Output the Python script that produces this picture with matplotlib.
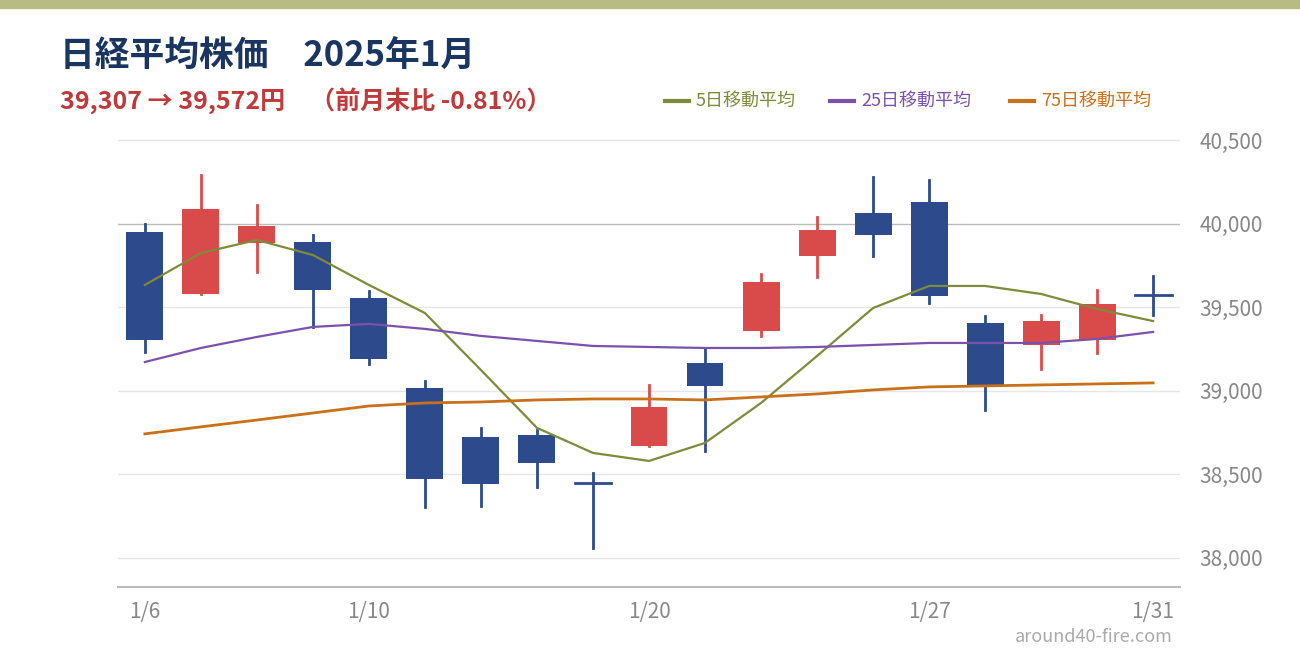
import matplotlib
matplotlib.use("Agg")
import matplotlib.pyplot as plt
from matplotlib.lines import Line2D

plt.rcParams['font.family'] = ['Noto Sans CJK JP', 'DejaVu Sans']

dates = ["1/6","1/7","1/8","1/9","1/10","1/14","1/15","1/16","1/17","1/20",
         "1/21","1/22","1/23","1/24","1/27","1/28","1/29","1/30","1/31"]
opens  = [39950,39579,39884,39890,39555,39017,38724,38736,38449,38670,39166,39358,39806,40063,40129,39405,39274,39304,39573]
closes = [39304,40087,39986,39603,39190,38472,38443,38568,38449,38903,39029,39651,39962,39932,39567,39035,39417,39519,39573]
highs  = [39998,40291,40111,39932,39597,39059,38778,38766,38508,39035,39250,39699,40040,40279,40261,39447,39453,39603,39687]
lows   = [39232,39579,39711,39382,39160,38305,38311,38425,38060,38670,38640,39328,39681,39806,39525,38885,39130,39226,39453]
ma5  = [39633,39824,39902,39812,39633,39465,39124,38778,38628,38580,38688,38927,39208,39495,39627,39627,39579,39489,39417]
ma25 = [39172,39256,39322,39382,39400,39370,39328,39298,39268,39262,39256,39256,39262,39274,39286,39286,39286,39310,39352]
ma75 = [38742,38784,38825,38867,38909,38927,38933,38945,38951,38951,38945,38963,38981,39005,39023,39029,39035,39041,39047]
xtick_idx = [0, 4, 9, 14, 18]
yticks = [38000, 38500, 39000, 39500, 40000, 40500]

BLUE, RED = "#2d4a8c", "#d94b4b"
C5, C25, C75 = "#7f8a3a", "#7b52ab", "#c8701a"

fig = plt.figure(figsize=(13, 6.6), dpi=100)
fig.add_artist(plt.Rectangle((0, 1-8/660), 1, 8/660, transform=fig.transFigure, color="#b8bb82"))
ax = fig.add_axes([118/1300, 1-587/660, (1180-118)/1300, (587-130)/660])

x = list(range(len(dates)))
for i in x:
    o, c, h, l = opens[i], closes[i], highs[i], lows[i]
    col = RED if c > o else BLUE
    ax.plot([i, i], [l, h], color=col, lw=2, zorder=3)
    if abs(c - o) < 1:
        ax.plot([i-0.33, i+0.33], [o, o], color=col, lw=2, zorder=3)
    else:
        ax.bar(i, abs(c-o), bottom=min(o, c), width=0.66, color=col, zorder=4)

ax.plot(x, ma5, color=C5, lw=1.6, zorder=5)
ax.plot(x, ma25, color=C25, lw=1.6, zorder=5)
ax.plot(x, ma75, color=C75, lw=2, zorder=5)

ax.set_xlim(-0.48, 18.48)
ax.set_ylim(37826, 40560)
ax.set_yticks(yticks)
ax.set_yticklabels([f"{v:,}" for v in yticks])
ax.yaxis.tick_right()
ax.set_xticks(xtick_idx)
ax.set_xticklabels([dates[i] for i in xtick_idx])
for v in yticks:
    ax.axhline(v, color="#bbbbbb" if v == 40000 else "#e6e6e6", lw=1, zorder=0)
for s in ["top", "right", "left"]:
    ax.spines[s].set_visible(False)
ax.spines["bottom"].set_color("#bbbbbb")
ax.spines["bottom"].set_linewidth(1.5)
ax.tick_params(axis="both", length=0, labelsize=15, colors="#888888", pad=10)
ax.tick_params(axis="y", pad=14)

fig.text(60/1300, 1-56/660, "日経平均株価　2025年1月", fontsize=25, fontweight="bold", color="#1a3560", va="center")
fig.text(60/1300, 1-101/660, "39,307 → 39,572円　（前月末比 -0.81%）", fontsize=18, fontweight="bold", color="#c0393b", va="center")

legend_items = [("5日移動平均", C5, 665), ("25日移動平均", C25, 830), ("75日移動平均", C75, 1010)]
for lab, col, px in legend_items:
    fig.add_artist(Line2D([px/1300, (px+24)/1300], [1-101/660]*2, color=col, lw=3, transform=fig.transFigure))
    fig.text((px+31)/1300, 1-101/660, lab, fontsize=13, color=col, va="center")

fig.text(1173/1300, 1-637/660, "around40-fire.com", fontsize=13, color="#aaaaaa", ha="right", va="center")

fig.savefig("out.png", dpi=100)
